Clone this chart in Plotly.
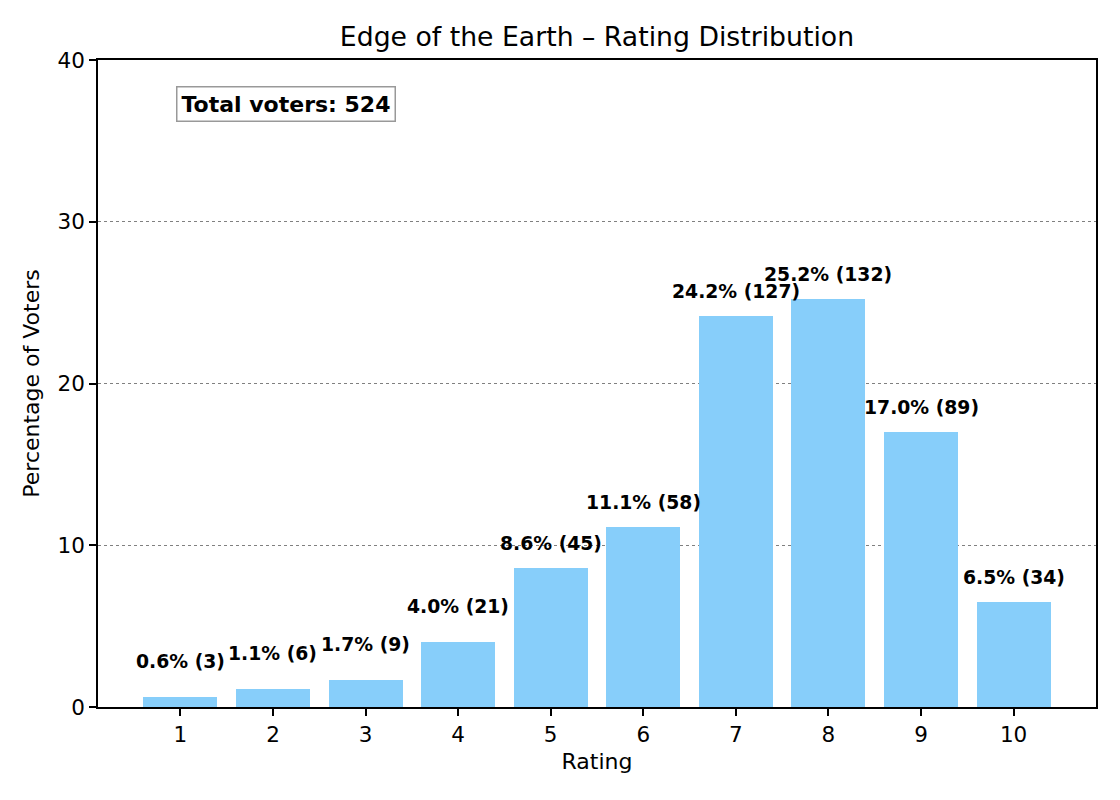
import plotly.graph_objects as go

ratings = [1, 2, 3, 4, 5, 6, 7, 8, 9, 10]
counts = [3, 6, 9, 21, 45, 58, 127, 132, 89, 34]
percents = [0.6, 1.1, 1.7, 4.0, 8.6, 11.1, 24.2, 25.2, 17.0, 6.5]
total_voters = 524

fig = go.Figure()
fig.add_trace(go.Bar(
    x=ratings,
    y=percents,
    width=0.8,
    marker=dict(color='#87CEFA', line=dict(width=0)),
    hoverinfo='skip',
    showlegend=False,
))

# value labels above bars (small bars get a bit more room, like the original)
for r, p, c in zip(ratings, percents, counts):
    fig.add_annotation(
        x=r, y=p, xref='x', yref='y',
        text=f"<b>{p:.1f}% ({c})</b>",
        showarrow=False,
        yanchor='bottom',
        yshift=23 if p < 5 else 12,
        font=dict(family='DejaVu Sans', size=18.8, color='black'),
    )

fig.add_annotation(
    x=0.078, y=0.96, xref='paper', yref='paper',
    xanchor='left', yanchor='top',
    text=f"<b>Total voters: {total_voters}</b>",
    showarrow=False,
    font=dict(family='DejaVu Sans', size=22, color='black'),
    bgcolor='white',
    bordercolor='#999999',
    borderwidth=1.5,
    borderpad=4,
)

fig.update_layout(
    width=1104,
    height=784,
    margin=dict(l=90, r=16, t=52, b=85),
    plot_bgcolor='white',
    paper_bgcolor='white',
    font=dict(family='DejaVu Sans', size=18.3, color='black'),
    title=dict(
        text='Edge of the Earth – Rating Distribution',
        x=0.5335, xanchor='center', y=0.963, yanchor='middle',
        font=dict(size=26.7, color='black'),
    ),
    xaxis=dict(
        range=[0.11, 10.89],
        tickmode='array', tickvals=ratings, ticktext=[str(r) for r in ratings],
        tickfont=dict(size=21.5),
        ticks='outside', ticklen=7, tickwidth=1.5, tickcolor='black',
        showline=True, linecolor='black', linewidth=1.5, mirror=True,
        showgrid=False, zeroline=False,
        title=dict(text='Rating', standoff=8),
    ),
    yaxis=dict(
        range=[0, 40],
        tickvals=[0, 10, 20, 30, 40],
        tickfont=dict(size=21.5),
        ticks='outside', ticklen=7, tickwidth=1.5, tickcolor='black',
        showline=True, linecolor='black', linewidth=1.5, mirror=True,
        showgrid=True, gridcolor='#808080', griddash='dot', gridwidth=1,
        zeroline=False,
        title=dict(text='Percentage of Voters', standoff=12),
    ),
    bargap=0,
)

fig.write_html("out.html")
